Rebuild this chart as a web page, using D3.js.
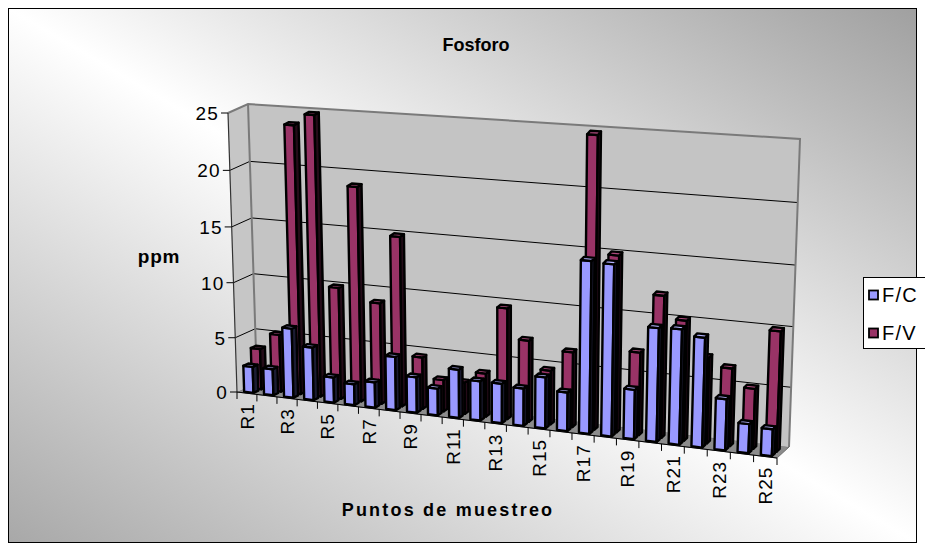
<!DOCTYPE html>
<html>
<head>
<meta charset="utf-8">
<script src="https://cdn.jsdelivr.net/npm/d3@7"></script>
<style>
  body { margin: 0; background: #fff; }
  svg { display: block; }
  text { font-family: "Liberation Sans", Arial, sans-serif; fill: #000; }
</style>
</head>
<body>
<svg id="chart" width="925" height="551"></svg>
<script>
// ---- data ----
const categories = ["R1","R2","R3","R4","R5","R6","R7","R8","R9","R10","R11","R12","R13",
                    "R14","R15","R16","R17","R18","R19","R20","R21","R22","R23","R24","R25"];
const seriesNames = ["F/C", "F/V"];
const fcValues = [2.4, 2.4, 6.3, 4.8, 2.3, 1.9, 2.3, 4.8, 3.2, 2.4, 4.3, 3.5, 3.5,
                  3.3, 4.5, 3.4, 14.9, 14.8, 4.3, 9.8, 9.9, 9.4, 4.4, 2.5, 2.3];
const fvValues = [3.7, 5.2, 23.9, 24.9, 10.0, 19.0, 9.0, 15.0, 4.6, 2.8, 2.8, 3.8, 9.7,
                  7.1, 4.7, 6.5, 24.9, 15.1, 7.1, 12.1, 10.2, 7.3, 6.6, 5.1, 10.1];
const valueTicks = [0, 5, 10, 15, 20, 25];
const categoryTickLabels = categories.filter((d, i) => i % 2 === 0);

const seriesColors = {
  "F/C": { front: "#9999ff", top: "#b3b3ff", side: "#1c1c33" },
  "F/V": { front: "#993366", top: "#ad4a7c", side: "#240b18" }
};

// ---- perspective frame: front plane and back wall as projected quads ----
const frontQuad = { p00: [237, 392], p10: [777, 458], p11: [788, 156], p01: [228, 113] };
const backQuad  = { p00: [257, 383], p10: [789, 447], p11: [800, 139], p01: [248, 104] };

// unit square -> quadrilateral (projective map)
function homography(q) {
  const [x0, y0] = q.p00, [x1, y1] = q.p10, [x2, y2] = q.p11, [x3, y3] = q.p01;
  const dx1 = x1 - x2, dx2 = x3 - x2, dx3 = x0 - x1 + x2 - x3;
  const dy1 = y1 - y2, dy2 = y3 - y2, dy3 = y0 - y1 + y2 - y3;
  const den = dx1 * dy2 - dx2 * dy1;
  const g = (dx3 * dy2 - dx2 * dy3) / den;
  const h = (dx1 * dy3 - dx3 * dy1) / den;
  const a = x1 - x0 + g * x1, b = x3 - x0 + h * x3, c = x0;
  const d = y1 - y0 + g * y1, e = y3 - y0 + h * y3, f = y0;
  return (u, v) => {
    const w = g * u + h * v + 1;
    return [(a * u + b * v + c) / w, (d * u + e * v + f) / w];
  };
}
const hFront = homography(frontQuad);
const hBack = homography(backQuad);
// u: along categories, v: along values, z: depth (0 front, 1 back)
function project(u, v, z) {
  const p = hFront(u, v), q = hBack(u, v);
  return [p[0] + (q[0] - p[0]) * z, p[1] + (q[1] - p[1]) * z];
}

// ---- scales ----
const x = d3.scaleBand().domain(categories).range([0, 1]);
const y = d3.scaleLinear().domain([0, 25]).range([0, 1]);
const zRow = d3.scalePoint().domain(seriesNames).range([0.1, 0.5]);
const barDepth = 0.25;
const barInset = 0.26, barWidth = 0.47;

const svg = d3.select("#chart");
const defs = svg.append("defs");

// chart background
const bg = defs.append("linearGradient").attr("id", "bgGrad")
  .attr("x1", 0).attr("y1", 1).attr("x2", 1).attr("y2", 0);
bg.append("stop").attr("offset", 0).attr("stop-color", "#a8a8a8");
bg.append("stop").attr("offset", 0.5).attr("stop-color", "#ffffff");
bg.append("stop").attr("offset", 1).attr("stop-color", "#a0a0a0");

svg.append("rect").attr("x", 0).attr("y", 0).attr("width", 925).attr("height", 551).attr("fill", "#ffffff");
svg.append("rect").attr("x", 8.5).attr("y", 8.5).attr("width", 908).attr("height", 534)
  .attr("fill", "url(#bgGrad)").attr("stroke", "#000").attr("stroke-width", 1);

const poly = pts => "M" + pts.map(p => p[0].toFixed(2) + "," + p[1].toFixed(2)).join("L") + "Z";
const line = d3.line();

// ---- walls and floor ----
const walls = svg.append("g");
walls.append("path")
  .attr("d", poly([project(0, 0, 0), project(1, 0, 0), project(1, 0, 1), project(0, 0, 1)]))
  .attr("fill", "#8c8c8c").attr("stroke", "#6e6e6e").attr("stroke-width", 1);
walls.append("path")
  .attr("d", poly([project(0, 0, 0), project(0, 1, 0), project(0, 1, 1), project(0, 0, 1)]))
  .attr("fill", "#c6c6c6");
walls.append("path")
  .attr("d", poly([project(0, 0, 1), project(1, 0, 1), project(1, 1, 1), project(0, 1, 1)]))
  .attr("fill", "#c4c4c4");

// gridlines on back and side walls
valueTicks.filter(t => t > 0 && t < 25).forEach(t => {
  walls.append("path")
    .attr("d", line([project(0, y(t), 0), project(0, y(t), 1), project(1, y(t), 1)]))
    .attr("fill", "none").attr("stroke", "#000").attr("stroke-width", 1);
});

// wall edges
walls.append("path")
  .attr("d", line([project(0, 1, 0), project(0, 1, 1), project(1, 1, 1), project(1, 0, 1)]))
  .attr("fill", "none").attr("stroke", "#7a7a7a").attr("stroke-width", 2);
walls.append("path")
  .attr("d", line([project(0, 1, 1), project(0, 0, 1)]))
  .attr("fill", "none").attr("stroke", "#7a7a7a").attr("stroke-width", 2);

// ---- bars: back row first, left to right ----
const bars = svg.append("g").attr("stroke", "#000").attr("stroke-width", 2.4).attr("stroke-linejoin", "round");
const rows = [
  { name: "F/V", values: fvValues },
  { name: "F/C", values: fcValues }
];
rows.forEach(row => {
  const col = seriesColors[row.name];
  const z0 = zRow(row.name), z1 = z0 + barDepth;
  row.values.forEach((val, i) => {
    const u0 = x(categories[i]) + x.bandwidth() * barInset;
    const u1 = u0 + x.bandwidth() * barWidth;
    const v = y(val);
    const g = bars.append("g");
    // front face
    g.append("path").attr("fill", col.front)
      .attr("d", poly([project(u0, 0, z0), project(u1, 0, z0), project(u1, v, z0), project(u0, v, z0)]));
    // right side face
    g.append("path").attr("fill", col.side)
      .attr("d", poly([project(u1, 0, z0), project(u1, 0, z1), project(u1, v, z1), project(u1, v, z0)]));
    // top face
    g.append("path").attr("fill", col.top)
      .attr("d", poly([project(u0, v, z0), project(u1, v, z0), project(u1, v, z1), project(u0, v, z1)]));
  });
});

// ---- value axis ----
const axisG = svg.append("g");
axisG.append("path")
  .attr("d", line([project(0, 0, 0), project(0, 1, 0)]))
  .attr("stroke", "#333").attr("stroke-width", 1.2).attr("fill", "none");
valueTicks.forEach(t => {
  const p = project(0, y(t), 0);
  axisG.append("line").attr("x1", p[0] - 7).attr("y1", p[1]).attr("x2", p[0]).attr("y2", p[1])
    .attr("stroke", "#000").attr("stroke-width", 1);
  axisG.append("text").attr("x", p[0] - 9).attr("y", p[1]).attr("dy", "0.36em")
    .attr("text-anchor", "end").attr("font-size", 19).attr("letter-spacing", 1.2).text(t);
});

// ---- category axis ----
axisG.append("path")
  .attr("d", line([project(0, 0, 0), project(1, 0, 0)]))
  .attr("stroke", "#000").attr("stroke-width", 1).attr("fill", "none");
d3.range(categories.length + 1).forEach(i => {
  const p = project(i / categories.length, 0, 0);
  axisG.append("line").attr("x1", p[0]).attr("y1", p[1]).attr("x2", p[0]).attr("y2", p[1] + 7)
    .attr("stroke", "#000").attr("stroke-width", 1);
});
categoryTickLabels.forEach(c => {
  const p = project(x(c) + x.bandwidth() / 2, 0, 0);
  axisG.append("text")
    .attr("transform", `translate(${p[0]},${p[1] + 10}) rotate(-90)`)
    .attr("text-anchor", "end").attr("dy", "0.36em")
    .attr("font-size", 19).attr("letter-spacing", 1).text(c);
});

// ---- titles ----
svg.append("text").attr("x", 476).attr("y", 51).attr("text-anchor", "middle")
  .attr("font-size", 18).attr("font-weight", "bold").text("Fosforo");
svg.append("text").attr("x", 159).attr("y", 263).attr("text-anchor", "middle")
  .attr("font-size", 19).attr("font-weight", "bold").attr("letter-spacing", 0.8).text("ppm");
svg.append("text").attr("x", 448).attr("y", 516).attr("text-anchor", "middle")
  .attr("font-size", 18).attr("font-weight", "bold").attr("letter-spacing", 2.2)
  .text("Puntos de muestreo");

// ---- legend ----
const legend = svg.append("g");
legend.append("rect").attr("x", 863.5).attr("y", 277.5).attr("width", 70).attr("height", 71)
  .attr("fill", "#ffffff").attr("stroke", "#000").attr("stroke-width", 1);
seriesNames.forEach((s, i) => {
  const cy = 295 + i * 38;
  legend.append("rect").attr("x", 869).attr("y", cy - 4.5).attr("width", 9).attr("height", 9)
    .attr("fill", seriesColors[s].front).attr("stroke", "#000").attr("stroke-width", 1.8);
  legend.append("text").attr("x", 882).attr("y", cy).attr("dy", "0.36em")
    .attr("font-size", 20).attr("letter-spacing", 1.2).text(s);
});
</script>
</body>
</html>
